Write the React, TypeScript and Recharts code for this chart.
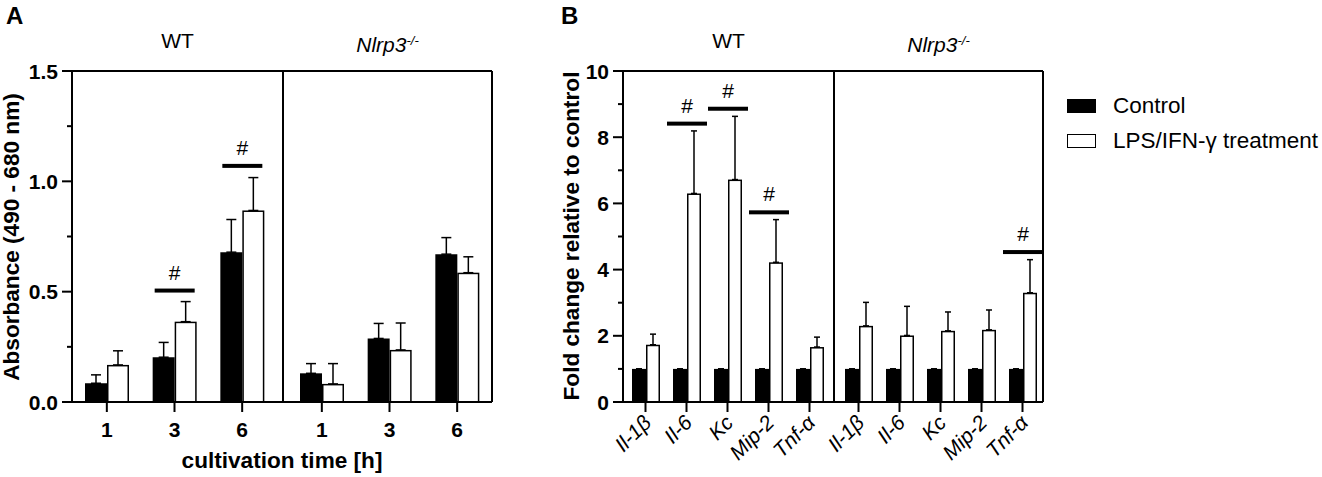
import React from "react";
import { BarChart, Bar, XAxis, YAxis, ErrorBar, CartesianGrid } from "recharts";

// Panel A: absorbance after 1, 3, 6 h cultivation
const timeLabels = ["1", "3", "6"];
const wtControlA = [0.085, 0.203, 0.679];
const wtControlErrA = [0.038, 0.067, 0.148];
const wtTreatA = [0.168, 0.364, 0.868];
const wtTreatErrA = [0.064, 0.091, 0.149];
const wtSigA = [null, 0.505, 1.07];
const koControlA = [0.13, 0.288, 0.67];
const koControlErrA = [0.044, 0.068, 0.075];
const koTreatA = [0.082, 0.236, 0.586];
const koTreatErrA = [0.092, 0.122, 0.072];
const koSigA = [null, null, null];
const majorTicksA = [0, 0.5, 1.0, 1.5];
const minorTicksA = [0.25, 0.75, 1.25];

// Panel B: fold change of cytokine mRNA
const genes = ["Il-1β", "Il-6", "Kc", "Mip-2", "Tnf-α"];
const wtControlB = [1, 1, 1, 1, 1];
const wtTreatB = [1.73, 6.3, 6.72, 4.22, 1.66];
const wtTreatErrB = [0.32, 1.89, 1.91, 1.29, 0.3];
const wtSigB = [null, 8.41, 8.86, 5.73, null];
const koControlB = [1, 1, 1, 1, 1];
const koTreatB = [2.3, 2.01, 2.15, 2.18, 3.3];
const koTreatErrB = [0.71, 0.88, 0.57, 0.6, 1.0];
const koSigB = [null, null, null, null, 4.53];
const majorTicksB = [0, 2, 4, 6, 8, 10];
const minorTicksB = [1, 3, 5, 7, 9];

const FONT = "'Liberation Sans', Arial, sans-serif";
const PLOT_TOP = 71;
const AXIS_H = 75;
const CHART_H = 477;

type Row = {
  name: string;
  ctrl: number;
  ctrlErr: number | null;
  treat: number;
  treatErr: number;
  sig: number | null;
};

function makeRows(
  names: string[],
  ctrl: number[],
  ctrlErr: (number | null)[] | null,
  treat: number[],
  treatErr: number[],
  sig: (number | null)[]
): Row[] {
  return names.map((name, i) => ({
    name,
    ctrl: ctrl[i],
    ctrlErr: ctrlErr ? ctrlErr[i] : null,
    treat: treat[i],
    treatErr: treatErr[i],
    sig: sig[i],
  }));
}

const rowsAwt = makeRows(timeLabels, wtControlA, wtControlErrA, wtTreatA, wtTreatErrA, wtSigA);
const rowsAko = makeRows(timeLabels, koControlA, koControlErrA, koTreatA, koTreatErrA, koSigA);
const rowsBwt = makeRows(genes, wtControlB, null, wtTreatB, wtTreatErrB, wtSigB);
const rowsBko = makeRows(genes, koControlB, null, koTreatB, koTreatErrB, koSigB);

// white bar + significance line with "#"
const TreatShape = (props: any) => {
  const { x, y, width, height, payload } = props;
  let sigEl = null;
  if (payload && payload.sig != null && height > 0) {
    const perUnit = height / payload.treat;
    const sy = y + height - payload.sig * perUnit;
    sigEl = (
      <g>
        <rect x={x - 20} y={sy - 2} width={40} height={4} fill="#000" />
        <text x={x} y={sy - 11} textAnchor="middle" fontSize={21} fontFamily={FONT} fill="#000">
          #
        </text>
      </g>
    );
  }
  return (
    <g>
      <rect
        x={x + 0.75}
        y={y + 0.75}
        width={Math.max(width - 1.5, 0)}
        height={Math.max(height - 0.75, 0)}
        fill="#fff"
        stroke="#000"
        strokeWidth={1.5}
      />
      {sigEl}
    </g>
  );
};

const makeYTick = (major: number[], digits: number) => (props: any) => {
  const { x, y, payload } = props;
  const isMajor = major.includes(payload.value);
  return (
    <g>
      <line x1={x - (isMajor ? 10 : 5)} y1={y} x2={x} y2={y} stroke="#000" strokeWidth={2} />
      {isMajor && (
        <text
          x={x - 14}
          y={y}
          dy="0.36em"
          textAnchor="end"
          fontSize={21}
          fontWeight="bold"
          fontFamily={FONT}
          fill="#000"
        >
          {payload.value.toFixed(digits)}
        </text>
      )}
    </g>
  );
};

const TimeTick = (props: any) => {
  const { x, y, payload } = props;
  return (
    <text x={x} y={y} dy="1em" textAnchor="middle" fontSize={21} fontWeight="bold" fontFamily={FONT} fill="#000">
      {payload.value}
    </text>
  );
};

const GeneTick = (props: any) => {
  const { x, y, payload } = props;
  const ax = x + 7;
  const ay = y + 8;
  return (
    <text
      x={ax}
      y={ay}
      textAnchor="end"
      fontSize={21}
      fontStyle="italic"
      fontFamily={FONT}
      fill="#000"
      transform={`rotate(-45, ${ax}, ${ay})`}
    >
      {payload.value}
    </text>
  );
};

interface HalfProps {
  rows: Row[];
  left: number;
  plotLeft: number;
  plotWidth: number;
  withY: boolean;
  max: number;
  major: number[];
  minor: number[];
  digits: number;
  padding: { left: number; right: number };
  barSize: number;
  cap: number;
  tick: any;
}

function Half({ rows, left, plotLeft, plotWidth, withY, max, major, minor, digits, padding, barSize, cap, tick }: HalfProps) {
  const allTicks = [...major, ...minor].sort((a, b) => a - b);
  const marginLeft = withY ? 0 : 2;
  const width = marginLeft + plotLeft + plotWidth + 2;
  const x0 = marginLeft + plotLeft;
  return (
    <div style={{ position: "absolute", left, top: 0 }}>
      <BarChart
        width={width}
        height={CHART_H}
        data={rows}
        margin={{ top: PLOT_TOP, right: 2, bottom: 0, left: marginLeft }}
        barGap={0}
        barSize={barSize}
      >
        <CartesianGrid
          stroke="#000"
          strokeWidth={2}
          verticalPoints={[x0, x0 + plotWidth]}
          horizontalPoints={[PLOT_TOP]}
        />
        <XAxis
          dataKey="name"
          height={AXIS_H}
          interval={0}
          padding={padding}
          axisLine={{ stroke: "#000", strokeWidth: 2 }}
          tickLine={{ stroke: "#000", strokeWidth: 2 }}
          tickSize={10}
          tickMargin={4}
          tick={tick}
        />
        {withY ? (
          <YAxis
            type="number"
            domain={[0, max]}
            ticks={allTicks}
            interval={0}
            width={plotLeft}
            axisLine={{ stroke: "#000", strokeWidth: 2 }}
            tickLine={false}
            tickSize={0}
            tickMargin={0}
            tick={makeYTick(major, digits)}
          />
        ) : (
          <YAxis type="number" domain={[0, max]} hide />
        )}
        <Bar dataKey="ctrl" fill="#000" isAnimationActive={false}>
          <ErrorBar
            dataKey={(d: Row) => (d.ctrlErr == null ? [0, 0] : [0, d.ctrlErr])}
            width={cap}
            stroke="#000"
            strokeWidth={1.5}
            direction="y"
          />
        </Bar>
        <Bar dataKey="treat" fill="#fff" shape={TreatShape} isAnimationActive={false}>
          <ErrorBar
            dataKey={(d: Row) => [0, d.treatErr]}
            width={cap}
            stroke="#000"
            strokeWidth={1.5}
            direction="y"
          />
        </Bar>
      </BarChart>
    </div>
  );
}

const Title = ({ cx, children }: { cx: number; children: React.ReactNode }) => (
  <div
    style={{
      position: "absolute",
      left: cx - 100,
      width: 200,
      top: 28,
      textAlign: "center",
      fontSize: 21,
      lineHeight: "26px",
    }}
  >
    {children}
  </div>
);

const KO = () => (
  <i>
    Nlrp3<sup style={{ fontSize: 13, verticalAlign: "7px" }}>-/-</sup>
  </i>
);

const YLabel = ({ cx, cy, text }: { cx: number; cy: number; text: string }) => (
  <div
    style={{
      position: "absolute",
      left: cx - 200,
      top: cy - 14,
      width: 400,
      height: 28,
      lineHeight: "28px",
      textAlign: "center",
      fontSize: 22.6,
      fontWeight: "bold",
      transform: "rotate(-90deg)",
      whiteSpace: "nowrap",
    }}
  >
    {text}
  </div>
);

const legendItems = [
  { label: "Control", fill: "#000" },
  { label: "LPS/IFN-γ treatment", fill: "#fff" },
];

export default function App() {
  return (
    <div
      style={{
        position: "absolute",
        left: 0,
        top: 0,
        width: 1322,
        height: 477,
        background: "#fff",
        fontFamily: FONT,
        color: "#000",
        overflow: "hidden",
      }}
    >
      <style>{"svg.recharts-surface { overflow: visible; }"}</style>
      <div style={{ position: "absolute", left: 6, top: 2, fontSize: 24, fontWeight: "bold" }}>A</div>
      <div style={{ position: "absolute", left: 561, top: 2, fontSize: 24, fontWeight: "bold" }}>B</div>

      <Title cx={177.5}>WT</Title>
      <Title cx={387.5}>
        <KO />
      </Title>
      <Title cx={728.5}>WT</Title>
      <Title cx={938.5}>
        <KO />
      </Title>

      <YLabel cx={12} cy={237} text="Absorbance (490 - 680 nm)" />
      <YLabel cx={572} cy={236} text="Fold change relative to control" />

      <Half
        rows={rowsAwt}
        left={0}
        plotLeft={72}
        plotWidth={211}
        withY
        max={1.5}
        major={majorTicksA}
        minor={minorTicksA}
        digits={1}
        padding={{ left: 1, right: 7 }}
        barSize={22}
        cap={5}
        tick={TimeTick}
      />
      <Half
        rows={rowsAko}
        left={281}
        plotLeft={0}
        plotWidth={209}
        withY={false}
        max={1.5}
        major={majorTicksA}
        minor={minorTicksA}
        digits={1}
        padding={{ left: 5, right: 1 }}
        barSize={22}
        cap={5}
        tick={TimeTick}
      />
      <Half
        rows={rowsBwt}
        left={540}
        plotLeft={83}
        plotWidth={211}
        withY
        max={10}
        major={majorTicksB}
        minor={minorTicksB}
        digits={0}
        padding={{ left: 2, right: 4 }}
        barSize={14}
        cap={3}
        tick={GeneTick}
      />
      <Half
        rows={rowsBko}
        left={832}
        plotLeft={0}
        plotWidth={209}
        withY={false}
        max={10}
        major={majorTicksB}
        minor={minorTicksB}
        digits={0}
        padding={{ left: 4, right: 0 }}
        barSize={14}
        cap={3}
        tick={GeneTick}
      />

      <div
        style={{
          position: "absolute",
          left: 82,
          width: 400,
          top: 448,
          textAlign: "center",
          fontSize: 22.6,
          fontWeight: "bold",
          whiteSpace: "nowrap",
        }}
      >
        cultivation time [h]
      </div>

      <div style={{ position: "absolute", left: 1067, top: 88 }}>
        {legendItems.map((it) => (
          <div key={it.label} style={{ display: "flex", alignItems: "center", height: 35 }}>
            <div
              style={{
                width: 27,
                height: 12,
                background: it.fill,
                border: "1.5px solid #000",
                marginRight: 17,
              }}
            />
            <span style={{ fontSize: 22.5, whiteSpace: "nowrap" }}>{it.label}</span>
          </div>
        ))}
      </div>
    </div>
  );
}
